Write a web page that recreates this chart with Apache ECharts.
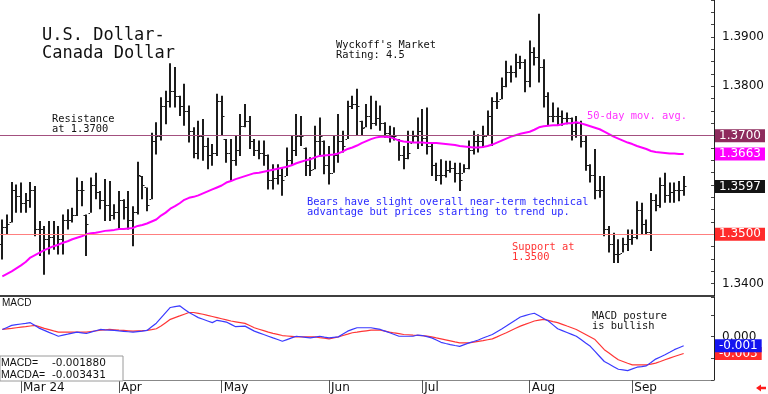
<!DOCTYPE html>
<html><head><meta charset="utf-8">
<script src="https://cdn.jsdelivr.net/npm/echarts@6/dist/echarts.min.js"></script>
<style>html,body{margin:0;padding:0;background:#fff}#c{width:768px;height:394px}</style>
</head><body><div id="c"></div>
<script>
// ---- data (USD/CAD daily bars, 26 Feb - 17 Sep 2024) ----
const highs = [1.3530,1.3540,1.3606,1.3601,1.3605,1.3584,1.3606,1.3598,1.3527,1.3517,
1.3527,1.3527,1.3517,1.3540,1.3551,1.3554,1.3615,1.3608,1.3540,1.3615,
1.3625,1.3588,1.3612,1.3608,1.3561,1.3588,1.3571,1.3588,1.3557,1.3647,
1.3618,1.3595,1.3706,1.3727,1.3778,1.3791,1.3847,1.3839,1.3781,1.3805,
1.3761,1.3717,1.3730,1.3734,1.3696,1.3683,1.3785,1.3781,1.3693,1.3693,
1.3700,1.3744,1.3764,1.3740,1.3693,1.3690,1.3690,1.3662,1.3642,1.3642,
1.3635,1.3676,1.3700,1.3744,1.3740,1.3676,1.3656,1.3720,1.3737,1.3690,
1.3679,1.3700,1.3744,1.3710,1.3771,1.3781,1.3795,1.3730,1.3764,1.3781,
1.3771,1.3761,1.3727,1.3720,1.3717,1.3693,1.3679,1.3710,1.3710,1.3737,
1.3754,1.3757,1.3686,1.3645,1.3652,1.3649,1.3649,1.3645,1.3645,1.3642,
1.3690,1.3710,1.3703,1.3720,1.3751,1.3778,1.3788,1.3818,1.3852,1.3842,
1.3866,1.3862,1.3855,1.3893,1.3879,1.3947,1.3855,1.3788,1.3767,1.3757,
1.3751,1.3747,1.3737,1.3740,1.3730,1.3700,1.3642,1.3673,1.3618,1.3618,
1.3517,1.3503,1.3490,1.3493,1.3510,1.3510,1.3567,1.3564,1.3530,1.3584,
1.3581,1.3615,1.3625,1.3605,1.3605,1.3608,1.3618];
const lows = [1.3449,1.3500,1.3524,1.3544,1.3544,1.3544,1.3554,1.3496,1.3456,1.3418,
1.3459,1.3469,1.3459,1.3459,1.3510,1.3524,1.3537,1.3557,1.3456,1.3544,
1.3571,1.3551,1.3527,1.3527,1.3530,1.3510,1.3530,1.3510,1.3476,1.3540,
1.3571,1.3547,1.3571,1.3662,1.3690,1.3723,1.3757,1.3757,1.3740,1.3720,
1.3686,1.3654,1.3652,1.3649,1.3632,1.3639,1.3659,1.3700,1.3645,1.3608,
1.3639,1.3659,1.3717,1.3673,1.3659,1.3652,1.3639,1.3591,1.3591,1.3601,
1.3578,1.3618,1.3639,1.3659,1.3679,1.3618,1.3618,1.3632,1.3659,1.3622,
1.3601,1.3625,1.3645,1.3666,1.3693,1.3754,1.3700,1.3700,1.3717,1.3713,
1.3720,1.3710,1.3696,1.3686,1.3690,1.3649,1.3632,1.3652,1.3686,1.3673,
1.3679,1.3662,1.3618,1.3608,1.3601,1.3615,1.3625,1.3605,1.3588,1.3625,
1.3632,1.3662,1.3666,1.3676,1.3700,1.3679,1.3754,1.3774,1.3798,1.3808,
1.3818,1.3835,1.3788,1.3798,1.3842,1.3808,1.3757,1.3720,1.3727,1.3720,
1.3720,1.3723,1.3690,1.3696,1.3676,1.3629,1.3605,1.3571,1.3574,1.3496,
1.3463,1.3442,1.3442,1.3463,1.3466,1.3479,1.3490,1.3500,1.3500,1.3466,
1.3547,1.3554,1.3564,1.3564,1.3564,1.3567,1.3578];
const opens = [1.3480,1.3515,1.3524,1.3590,1.3578,1.3564,1.3570,1.3590,1.3510,1.3510,
1.3490,1.3495,1.3500,1.3490,1.3530,1.3530,1.3540,1.3590,1.3540,1.3544,
1.3600,1.3585,1.3570,1.3560,1.3540,1.3545,1.3570,1.3555,1.3530,1.3545,
1.3618,1.3595,1.3571,1.3690,1.3700,1.3760,1.3770,1.3790,1.3780,1.3760,
1.3750,1.3710,1.3665,1.3700,1.3680,1.3660,1.3665,1.3770,1.3693,1.3665,
1.3650,1.3670,1.3720,1.3730,1.3690,1.3670,1.3665,1.3660,1.3610,1.3615,
1.3620,1.3618,1.3650,1.3670,1.3700,1.3676,1.3640,1.3632,1.3690,1.3690,
1.3640,1.3625,1.3660,1.3690,1.3693,1.3760,1.3765,1.3730,1.3717,1.3740,
1.3725,1.3735,1.3725,1.3705,1.3700,1.3693,1.3660,1.3655,1.3686,1.3700,
1.3710,1.3695,1.3680,1.3640,1.3620,1.3620,1.3630,1.3635,1.3625,1.3625,
1.3635,1.3670,1.3690,1.3690,1.3700,1.3740,1.3770,1.3774,1.3800,1.3830,
1.3830,1.3850,1.3850,1.3810,1.3870,1.3860,1.3840,1.3780,1.3740,1.3740,
1.3740,1.3735,1.3735,1.3710,1.3725,1.3690,1.3640,1.3620,1.3590,1.3590,
1.3510,1.3480,1.3460,1.3463,1.3480,1.3490,1.3495,1.3550,1.3520,1.3505,
1.3570,1.3560,1.3600,1.3580,1.3585,1.3590,1.3590];
const closes = [1.3515,1.3520,1.3590,1.3578,1.3564,1.3570,1.3590,1.3510,1.3510,1.3490,
1.3495,1.3500,1.3490,1.3530,1.3530,1.3540,1.3590,1.3590,1.3520,1.3600,
1.3585,1.3570,1.3560,1.3540,1.3545,1.3570,1.3555,1.3530,1.3545,1.3620,
1.3600,1.3560,1.3690,1.3700,1.3760,1.3770,1.3790,1.3780,1.3760,1.3750,
1.3710,1.3665,1.3700,1.3680,1.3660,1.3665,1.3770,1.3740,1.3665,1.3650,
1.3670,1.3720,1.3730,1.3690,1.3670,1.3665,1.3660,1.3610,1.3615,1.3620,
1.3610,1.3650,1.3670,1.3700,1.3700,1.3640,1.3630,1.3690,1.3700,1.3640,
1.3625,1.3660,1.3690,1.3680,1.3760,1.3765,1.3760,1.3715,1.3740,1.3725,
1.3735,1.3725,1.3705,1.3700,1.3700,1.3660,1.3655,1.3665,1.3700,1.3710,
1.3695,1.3680,1.3640,1.3620,1.3620,1.3630,1.3635,1.3625,1.3610,1.3635,
1.3670,1.3690,1.3690,1.3700,1.3740,1.3770,1.3770,1.3800,1.3830,1.3830,
1.3850,1.3850,1.3810,1.3870,1.3860,1.3840,1.3780,1.3740,1.3740,1.3740,
1.3735,1.3735,1.3710,1.3725,1.3690,1.3640,1.3620,1.3590,1.3590,1.3510,
1.3480,1.3460,1.3460,1.3480,1.3490,1.3495,1.3550,1.3520,1.3505,1.3570,
1.3560,1.3600,1.3580,1.3585,1.3590,1.3590,1.3597];
const ma50 = [1.3415,1.3420,1.3425,1.3431,1.3437,1.3444,1.3453,1.3458,1.3463,1.3468,
1.3472,1.3476,1.3479,1.3483,1.3486,1.3490,1.3493,1.3496,1.3500,1.3502,
1.3503,1.3505,1.3507,1.3508,1.3509,1.3511,1.3511,1.3512,1.3513,1.3517,
1.3519,1.3522,1.3526,1.3530,1.3538,1.3544,1.3552,1.3557,1.3563,1.3570,
1.3574,1.3576,1.3579,1.3583,1.3587,1.3591,1.3595,1.3599,1.3605,1.3608,
1.3612,1.3615,1.3618,1.3621,1.3624,1.3625,1.3627,1.3629,1.3631,1.3633,
1.3635,1.3637,1.3640,1.3644,1.3647,1.3650,1.3652,1.3656,1.3659,1.3660,
1.3661,1.3662,1.3664,1.3668,1.3673,1.3676,1.3680,1.3685,1.3689,1.3693,
1.3696,1.3698,1.3698,1.3697,1.3694,1.3690,1.3688,1.3687,1.3686,1.3686,
1.3686,1.3685,1.3685,1.3685,1.3684,1.3683,1.3682,1.3681,1.3679,1.3678,
1.3677,1.3676,1.3676,1.3677,1.3679,1.3682,1.3686,1.3690,1.3694,1.3698,
1.3701,1.3704,1.3706,1.3708,1.3712,1.3717,1.3719,1.3720,1.3721,1.3721,
1.3723,1.3725,1.3725,1.3727,1.3725,1.3722,1.3719,1.3716,1.3713,1.3708,
1.3703,1.3698,1.3694,1.3690,1.3686,1.3683,1.3679,1.3676,1.3673,1.3669,
1.3667,1.3666,1.3665,1.3664,1.3664,1.3663,1.3663];
const macd = [0.00143,0.00184,0.00225,0.00239,0.00253,0.00266,0.00280,0.00222,0.00164,0.00125,
0.00085,0.00046,0.00006,0.00027,0.00047,0.00068,0.00088,0.00075,0.00061,0.00088,
0.00116,0.00143,0.00136,0.00130,0.00123,0.00114,0.00106,0.00097,0.00088,0.00100,
0.00111,0.00123,0.00197,0.00270,0.00376,0.00482,0.00588,0.00605,0.00621,0.00554,
0.00486,0.00435,0.00383,0.00349,0.00315,0.00281,0.00328,0.00310,0.00293,0.00246,
0.00199,0.00205,0.00210,0.00160,0.00109,0.00075,0.00040,0.00006,-0.00028,-0.00061,
-0.00096,-0.00062,-0.00028,0.00006,-0.00005,-0.00016,-0.00027,-0.00011,0.00006,-0.00011,
-0.00027,-0.00017,-0.00007,0.00051,0.00109,0.00144,0.00178,0.00178,0.00178,0.00178,
0.00161,0.00143,0.00110,0.00076,0.00041,0.00006,0.00006,0.00006,0.00006,0.00030,
0.00020,-0.00003,-0.00027,-0.00072,-0.00117,-0.00141,-0.00164,-0.00182,-0.00199,-0.00164,
-0.00129,-0.00100,-0.00070,-0.00030,0.00005,0.00041,0.00098,0.00154,0.00211,0.00273,
0.00334,0.00396,0.00424,0.00451,0.00471,0.00419,0.00366,0.00314,0.00236,0.00158,
0.00120,0.00082,0.00044,0.00006,-0.00062,-0.00131,-0.00199,-0.00301,-0.00404,-0.00506,
-0.00558,-0.00610,-0.00662,-0.00676,-0.00690,-0.00656,-0.00621,-0.00608,-0.00594,-0.00526,
-0.00457,-0.00413,-0.00369,-0.00318,-0.00266,-0.00227,-0.00188];
const macdSignal = [0.00143,0.00155,0.00166,0.00178,0.00190,0.00201,0.00213,0.00225,0.00195,0.00164,
0.00139,0.00113,0.00088,0.00088,0.00088,0.00088,0.00088,0.00088,0.00088,0.00102,
0.00115,0.00129,0.00136,0.00143,0.00136,0.00129,0.00123,0.00116,0.00109,0.00114,
0.00118,0.00123,0.00140,0.00158,0.00211,0.00280,0.00348,0.00383,0.00417,0.00452,
0.00486,0.00486,0.00469,0.00451,0.00428,0.00406,0.00383,0.00360,0.00337,0.00314,
0.00298,0.00282,0.00266,0.00222,0.00178,0.00148,0.00118,0.00088,0.00065,0.00043,
0.00020,0.00011,0.00002,-0.00007,-0.00007,-0.00007,-0.00007,-0.00007,-0.00021,-0.00034,
-0.00048,-0.00028,-0.00007,0.00021,0.00048,0.00076,0.00089,0.00103,0.00116,0.00129,
0.00129,0.00129,0.00109,0.00088,0.00072,0.00057,0.00041,0.00036,0.00030,0.00025,
0.00020,0.00007,-0.00007,-0.00028,-0.00048,-0.00068,-0.00088,-0.00109,-0.00129,-0.00129,
-0.00129,-0.00115,-0.00100,-0.00083,-0.00065,-0.00048,-0.00007,0.00035,0.00076,0.00121,
0.00166,0.00211,0.00245,0.00280,0.00314,0.00331,0.00348,0.00326,0.00303,0.00281,
0.00247,0.00212,0.00178,0.00143,0.00092,0.00041,-0.00010,-0.00061,-0.00164,-0.00266,
-0.00334,-0.00403,-0.00471,-0.00505,-0.00540,-0.00574,-0.00574,-0.00574,-0.00574,-0.00557,
-0.00539,-0.00505,-0.00470,-0.00436,-0.00405,-0.00374,-0.00343];
const resistance = 1.3700, support = 1.3500;
const macdNow = -0.001880, macdaNow = -0.003431;
const monthLabels = ['Mar 24','Apr','May','Jun','Jul','Aug','Sep'];
const priceTickLabels = ['1.3400','1.3800','1.3900'];
const macdTickLabels = ['0.000'];

// ---- categories: trading days ----
const N = highs.length, PAD = 6;
const dates = [];
{ const d = new Date(Date.UTC(2024,1,26));
  while (dates.length < N + PAD) { const wd = d.getUTCDay(); if (wd !== 0 && wd !== 6) dates.push(d.toISOString().slice(0,10)); d.setUTCDate(d.getUTCDate()+1); } }
const monthStart = {};
{ let k = 0; for (let i = 1; i < N; i++) if (dates[i].slice(5,7) !== dates[i-1].slice(5,7)) monthStart[i] = monthLabels[k++]; }

const ohlc = highs.map((h,i) => [i, opens[i], closes[i], lows[i], h]);
const lastClose = closes[N-1], lastMA = ma50[N-1];

function renderBar(params, api) {
  const i = api.value(0);
  const pO = api.coord([i, api.value(1)]), pC = api.coord([i, api.value(2)]);
  const pL = api.coord([i, api.value(3)]), pH = api.coord([i, api.value(4)]);
  const x = Math.round(pH[0]);
  const st = {stroke:'#1c1c1c', lineWidth:2};
  return {type:'group', children:[
    {type:'line', shape:{x1:x, y1:pH[1], x2:x, y2:pL[1]}, style:st},
    {type:'line', shape:{x1:x-2.5, y1:Math.round(pO[1])+0.5, x2:x-1, y2:Math.round(pO[1])+0.5}, style:{stroke:'#1c1c1c', lineWidth:1}},
    {type:'line', shape:{x1:x+1, y1:Math.round(pC[1])+0.5, x2:x+2.5, y2:Math.round(pC[1])+0.5}, style:{stroke:'#1c1c1c', lineWidth:1}}
  ]};
}

const badge = {show:true, position:'end', distance:1, color:'#fff', fontFamily:'DejaVu Sans', fontSize:12, lineHeight:12, padding:[1,4,0,4]};
const MONO = 'DejaVu Sans Mono';
function txt(x, y, text, fill, size, family) {
  return {type:'text', x:x, y:y, z:50, silent:true,
    style:{text:text, fill:fill, font: size + 'px "' + (family||MONO) + '"', verticalAlign:'top', align:'left'}};
}

const chart = echarts.init(document.getElementById('c'), null, {renderer:'canvas'});
chart.setOption({
  animation:false,
  backgroundColor:'#fff',
  grid:[
    {left:0, right:54, top:0, bottom:98},
    {left:0, right:54, top:297, bottom:13}
  ],
  xAxis:[
    {type:'category', gridIndex:0, data:dates, boundaryGap:true,
     axisLine:{show:true, onZero:false, lineStyle:{color:'#000', width:1.5}}, axisTick:{show:false}, axisLabel:{show:false}, splitLine:{show:false}},
    {type:'category', gridIndex:1, data:dates, boundaryGap:true,
     axisLine:{show:true, onZero:false, lineStyle:{color:'#888', width:1}},
     axisTick:{show:true, alignWithLabel:true, length:13, interval:(idx) => monthStart[idx] !== undefined, lineStyle:{color:'#555', width:1}},
     axisLabel:{show:true, interval:(idx) => monthStart[idx] !== undefined, formatter:(v, idx) => monthStart[idx] || '',
       align:'left', margin:2, padding:[0,0,0,2], color:'#111', fontFamily:'DejaVu Sans', fontSize:12},
     splitLine:{show:false}}
  ],
  yAxis:[
    {type:'value', gridIndex:0, position:'right', min:1.3375, max:1.3975, interval:0.0025,
     axisLine:{show:true, lineStyle:{color:'#222', width:1}},
     axisTick:{show:true, inside:true, length:3, lineStyle:{color:'#444'}},
     splitLine:{show:false},
     axisLabel:{margin:8, color:'#111', fontFamily:'DejaVu Sans', fontSize:12,
       formatter:(v) => priceTickLabels.includes(v.toFixed(4)) ? v.toFixed(4) : ''}},
    {type:'value', gridIndex:1, position:'right', min:-0.0088, max:0.008, interval:0.0044,
     axisLine:{show:true, lineStyle:{color:'#222', width:1}},
     axisTick:{show:true, inside:true, length:3, lineStyle:{color:'#444'}},
     splitLine:{show:false},
     axisLabel:{margin:8, color:'#111', fontFamily:'DejaVu Sans', fontSize:12,
       formatter:(v) => { const s = Math.abs(v) < 1e-9 ? '0.000' : v.toFixed(3); return macdTickLabels.includes(s) ? s : ''; }}}
  ],
  series:[
    {type:'custom', name:'USD/CAD', xAxisIndex:0, yAxisIndex:0, data:ohlc, renderItem:renderBar,
     encode:{x:0, y:[1,2,3,4]}, z:3,
     markLine:{symbol:'none', silent:true, animation:false, precision:4, label:badge,
       data:[
         {yAxis:resistance, lineStyle:{color:'#a3507f', width:1, type:'solid'}, label:{formatter:(p)=>(+p.value).toFixed(4), backgroundColor:'#8e2b5d'}},
         {yAxis:support, lineStyle:{color:'#ff7f7f', width:1, type:'solid'}, label:{formatter:(p)=>(+p.value).toFixed(4), backgroundColor:'#ff2b2b'}},
         {yAxis:lastMA, lineStyle:{color:'rgba(0,0,0,0)', width:0}, label:{formatter:(p)=>(+p.value).toFixed(4), backgroundColor:'#ff00ff'}},
         {yAxis:lastClose, lineStyle:{color:'rgba(0,0,0,0)', width:0}, label:{formatter:(p)=>(+p.value).toFixed(4), backgroundColor:'#141414'}}
       ]}},
    {type:'line', name:'50-day', xAxisIndex:0, yAxisIndex:0, data:ma50, symbol:'none', z:4,
     lineStyle:{color:'#ff00ff', width:2}},
    {type:'line', name:'MACDA', xAxisIndex:1, yAxisIndex:1, data:macdSignal, symbol:'none', z:3,
     lineStyle:{color:'#ff3636', width:1.2},
     markLine:{symbol:'none', silent:true, animation:false, precision:6, label:badge,
       data:[{yAxis:macdaNow, lineStyle:{color:'rgba(0,0,0,0)', width:0},
              label:{formatter:(p)=>(Math.trunc(p.value*1000)/1000).toFixed(3), backgroundColor:'#ff2b2b'}}]}},
    {type:'line', name:'MACD', xAxisIndex:1, yAxisIndex:1, data:macd, symbol:'none', z:5,
     lineStyle:{color:'#3a3aff', width:1.2},
     markLine:{symbol:'none', silent:true, animation:false, precision:6, label:badge,
       data:[{yAxis:macdNow, lineStyle:{color:'rgba(0,0,0,0)', width:0},
              label:{formatter:(p)=>(Math.trunc(p.value*1000)/1000).toFixed(3), backgroundColor:'#1414f0'}}]}}
  ],
  graphic:[
    txt(42, 27, 'U.S. Dollar-', '#111', 17),
    txt(42, 45, 'Canada Dollar', '#111', 17),
    txt(336, 40, "Wyckoff's Market", '#111', 10.4),
    txt(336, 50, 'Rating: 4.5', '#111', 10.4),
    txt(52, 114, 'Resistance', '#111', 10.4),
    txt(52, 124.5, 'at 1.3700', '#111', 10.4),
    txt(307, 197.5, 'Bears have slight overall near-term technical', '#2a2aff', 10.4),
    txt(307, 207.5, 'advantage but prices starting to trend up.', '#2a2aff', 10.4),
    txt(512, 242.5, 'Support at', '#ff3434', 10.4),
    txt(512, 252.5, '1.3500', '#ff3434', 10.4),
    txt(587, 111.5, '50-day mov. avg.', '#ff33ff', 10.4),
    txt(592, 311, 'MACD posture', '#111', 10.4),
    txt(592, 321.5, 'is bullish', '#111', 10.4),
    txt(2, 298.5, 'MACD', '#111', 10, 'Liberation Sans'),
    {type:'rect', x:0, y:356, z:40, silent:true, shape:{x:0, y:0, width:123, height:25}, style:{fill:'#fff', stroke:'#9a9a9a', lineWidth:1}},
    txt(1, 357.5, 'MACD=', '#111', 10.5, 'Liberation Sans'),
    txt(1, 369.5, 'MACDA=', '#111', 10.5, 'Liberation Sans'),
    txt(52, 357.5, macdNow.toFixed(6), '#111', 10.5, 'DejaVu Sans'),
    txt(52, 369.5, macdaNow.toFixed(6), '#111', 10.5, 'DejaVu Sans'),
    {type:'polygon', z:50, silent:true, shape:{points:[[756,388],[761,384.5],[761,386.8],[766,386.8],[766,389.2],[761,389.2],[761,391.5]]}, style:{fill:'#ff1a1a'}}
  ]
});
</script></body></html>
